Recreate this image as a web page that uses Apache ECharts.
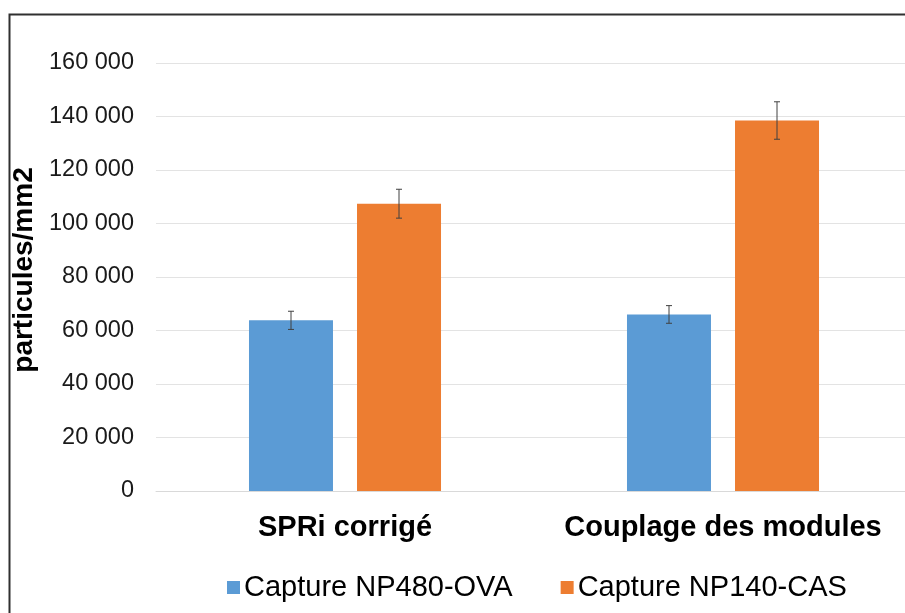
<!DOCTYPE html>
<html>
<head>
<meta charset="utf-8">
<script src="https://cdn.jsdelivr.net/npm/echarts@6/dist/echarts.min.js"></script>
<style>
  html, body { margin: 0; padding: 0; background: #ffffff; overflow: hidden; }
  /* plot area runs past the right edge of the window, so the canvas is wider than the view */
  #chart { width: 920px; height: 613px; }
</style>
</head>
<body>
<div id="chart"></div>
<script>
// Particle density measured for each capture, with standard deviations
const categories = ['SPRi corrigé', 'Couplage des modules'];
const seriesNames = ['Capture NP480-OVA', 'Capture NP140-CAS'];
const ovaValues = [63800, 66000];
const ovaErrors = [3400, 3300];
const casValues = [107400, 138500];
const casErrors = [5400, 7000];
const yTicks = { min: 0, max: 160000, step: 20000 };

const FONT = '"Liberation Sans", Arial, sans-serif';
const BLUE = '#5B9BD5';
const ORANGE = '#ED7D31';
const BAR_W = 84;
const BAR_GAP = 24;

function groupThousands(v) {
  return String(v).replace(/\B(?=(\d{3})+(?!\d))/g, ' ');
}

// Error whiskers drawn at the centre of each bar (bars sit ±(width+gap)/2 from the band centre)
function errorSeries(values, errors, side) {
  return {
    type: 'custom',
    z: 5,
    silent: true,
    data: values.map((v, i) => [i, v - errors[i], v + errors[i]]),
    renderItem: function (params, api) {
      const idx = api.value(0);
      const lo = api.coord([idx, api.value(1)]);
      const hi = api.coord([idx, api.value(2)]);
      const x = lo[0] + side * (BAR_W + BAR_GAP) / 2;
      const cap = 3;
      const style = { stroke: '#404040', lineWidth: 1 };
      return {
        type: 'group',
        children: [
          { type: 'line', shape: { x1: x, y1: hi[1], x2: x, y2: lo[1] }, style },
          { type: 'line', shape: { x1: x - cap, y1: hi[1], x2: x + cap, y2: hi[1] }, style },
          { type: 'line', shape: { x1: x - cap, y1: lo[1], x2: x + cap, y2: lo[1] }, style }
        ]
      };
    }
  };
}

const chart = echarts.init(document.getElementById('chart'), null, { renderer: 'canvas' });
chart.setOption({
  animation: false,
  backgroundColor: '#ffffff',
  textStyle: { fontFamily: FONT },
  graphic: [{
    type: 'rect',
    z: 100,
    silent: true,
    shape: { x: 9.5, y: 14.5, width: 1000, height: 1000 },
    style: { fill: 'none', stroke: '#303030', lineWidth: 2 }
  }],
  grid: { left: 156, top: 63, width: 756, height: 428, containLabel: false },
  legend: {
    data: seriesNames,
    left: 227,
    top: 573,
    padding: 0,
    itemWidth: 13,
    itemHeight: 13,
    itemGap: 48,
    icon: 'rect',
    textStyle: { fontFamily: FONT, fontSize: 29, color: '#000000', padding: [0, 0, 0, -1] }
  },
  xAxis: {
    type: 'category',
    data: categories,
    axisLine: { show: true, lineStyle: { color: '#d9d9d9', width: 1 } },
    axisTick: { show: false },
    axisLabel: {
      interval: 0, hideOverlap: false,
      fontFamily: FONT, fontSize: 29, fontWeight: 'bold', color: '#000000', margin: 22
    }
  },
  yAxis: {
    type: 'value',
    min: yTicks.min,
    max: yTicks.max,
    interval: yTicks.step,
    name: 'particules/mm2',
    nameLocation: 'middle',
    nameRotate: 90,
    nameGap: 112,
    nameTextStyle: {
      fontFamily: FONT, fontSize: 28, fontWeight: 'bold', color: '#000000',
      padding: [0, 0, 0, 14]
    },
    axisLine: { show: false },
    axisTick: { show: false },
    splitLine: { lineStyle: { color: '#e3e3e3', width: 1 } },
    axisLabel: {
      fontFamily: FONT, fontSize: 23.5, color: '#1a1a1a', margin: 22,
      formatter: groupThousands
    }
  },
  series: [
    {
      name: seriesNames[0], type: 'bar', data: ovaValues,
      barWidth: BAR_W, barGap: (BAR_GAP / BAR_W * 100).toFixed(1) + '%',
      itemStyle: { color: BLUE }
    },
    {
      name: seriesNames[1], type: 'bar', data: casValues,
      barWidth: BAR_W,
      itemStyle: { color: ORANGE }
    },
    errorSeries(ovaValues, ovaErrors, -1),
    errorSeries(casValues, casErrors, 1)
  ]
});
</script>
</body>
</html>
